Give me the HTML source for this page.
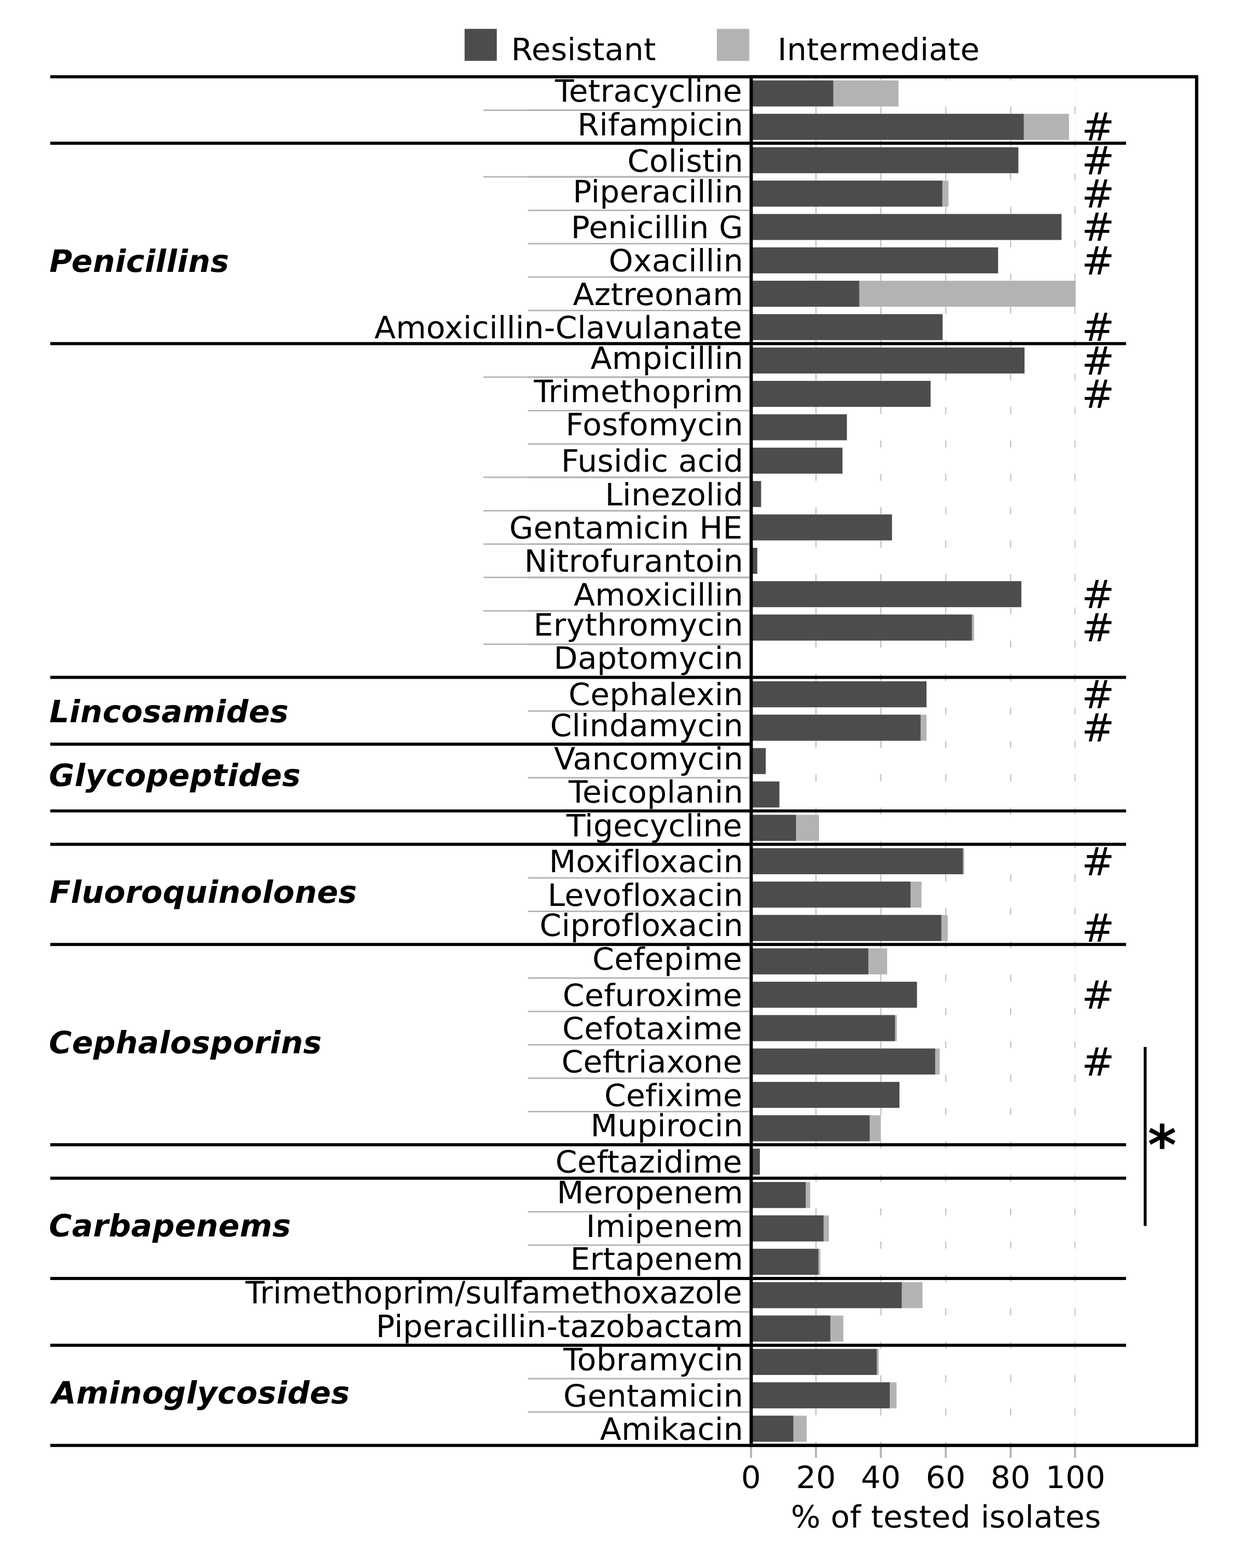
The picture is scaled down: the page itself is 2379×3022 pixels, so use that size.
<!DOCTYPE html>
<html lang="en"><head><meta charset="utf-8"><title>Antibiotic resistance chart</title>
<style>html,body{margin:0;padding:0;background:#fff}body{width:2379px;height:3022px;overflow:hidden}</style></head>
<body>
<svg width="2379" height="3022" viewBox="0 0 2379 3022" style="display:block">
<rect width="2379" height="3022" fill="#fff"/>
<g stroke="#c2c2c2" stroke-width="2.3">
<line x1="1573.10" y1="147.95" x2="1573.10" y2="154.75"/>
<line x1="1573.10" y1="205.48" x2="1573.10" y2="219.08"/>
<line x1="1573.10" y1="269.82" x2="1573.10" y2="283.42"/>
<line x1="1573.10" y1="334.15" x2="1573.10" y2="347.75"/>
<line x1="1573.10" y1="398.49" x2="1573.10" y2="412.09"/>
<line x1="1573.10" y1="462.82" x2="1573.10" y2="476.42"/>
<line x1="1573.10" y1="527.16" x2="1573.10" y2="540.76"/>
<line x1="1573.10" y1="591.50" x2="1573.10" y2="605.09"/>
<line x1="1573.10" y1="655.83" x2="1573.10" y2="669.43"/>
<line x1="1573.10" y1="720.16" x2="1573.10" y2="733.76"/>
<line x1="1573.10" y1="784.50" x2="1573.10" y2="798.10"/>
<line x1="1573.10" y1="848.84" x2="1573.10" y2="862.43"/>
<line x1="1573.10" y1="913.17" x2="1573.10" y2="926.77"/>
<line x1="1573.10" y1="977.50" x2="1573.10" y2="991.10"/>
<line x1="1573.10" y1="1041.84" x2="1573.10" y2="1055.44"/>
<line x1="1573.10" y1="1106.17" x2="1573.10" y2="1119.77"/>
<line x1="1573.10" y1="1170.51" x2="1573.10" y2="1184.11"/>
<line x1="1573.10" y1="1234.85" x2="1573.10" y2="1248.44"/>
<line x1="1573.10" y1="1299.18" x2="1573.10" y2="1312.78"/>
<line x1="1573.10" y1="1363.51" x2="1573.10" y2="1377.11"/>
<line x1="1573.10" y1="1427.85" x2="1573.10" y2="1441.45"/>
<line x1="1573.10" y1="1492.18" x2="1573.10" y2="1505.78"/>
<line x1="1573.10" y1="1556.52" x2="1573.10" y2="1570.12"/>
<line x1="1573.10" y1="1620.86" x2="1573.10" y2="1634.45"/>
<line x1="1573.10" y1="1685.19" x2="1573.10" y2="1698.79"/>
<line x1="1573.10" y1="1749.52" x2="1573.10" y2="1763.12"/>
<line x1="1573.10" y1="1813.86" x2="1573.10" y2="1827.46"/>
<line x1="1573.10" y1="1878.19" x2="1573.10" y2="1891.79"/>
<line x1="1573.10" y1="1942.53" x2="1573.10" y2="1956.13"/>
<line x1="1573.10" y1="2006.87" x2="1573.10" y2="2020.46"/>
<line x1="1573.10" y1="2071.20" x2="1573.10" y2="2084.80"/>
<line x1="1573.10" y1="2135.53" x2="1573.10" y2="2149.13"/>
<line x1="1573.10" y1="2199.87" x2="1573.10" y2="2213.47"/>
<line x1="1573.10" y1="2264.20" x2="1573.10" y2="2277.80"/>
<line x1="1573.10" y1="2328.54" x2="1573.10" y2="2342.14"/>
<line x1="1573.10" y1="2392.87" x2="1573.10" y2="2406.47"/>
<line x1="1573.10" y1="2457.21" x2="1573.10" y2="2470.81"/>
<line x1="1573.10" y1="2521.54" x2="1573.10" y2="2535.14"/>
<line x1="1573.10" y1="2585.88" x2="1573.10" y2="2599.48"/>
<line x1="1573.10" y1="2650.21" x2="1573.10" y2="2663.81"/>
<line x1="1573.10" y1="2714.55" x2="1573.10" y2="2728.15"/>
<line x1="1573.10" y1="2778.88" x2="1573.10" y2="2785.68"/>
<line x1="1698.20" y1="147.95" x2="1698.20" y2="154.75"/>
<line x1="1698.20" y1="205.48" x2="1698.20" y2="219.08"/>
<line x1="1698.20" y1="269.82" x2="1698.20" y2="283.42"/>
<line x1="1698.20" y1="334.15" x2="1698.20" y2="347.75"/>
<line x1="1698.20" y1="398.49" x2="1698.20" y2="412.09"/>
<line x1="1698.20" y1="462.82" x2="1698.20" y2="476.42"/>
<line x1="1698.20" y1="527.16" x2="1698.20" y2="540.76"/>
<line x1="1698.20" y1="591.50" x2="1698.20" y2="605.09"/>
<line x1="1698.20" y1="655.83" x2="1698.20" y2="669.43"/>
<line x1="1698.20" y1="720.16" x2="1698.20" y2="733.76"/>
<line x1="1698.20" y1="784.50" x2="1698.20" y2="798.10"/>
<line x1="1698.20" y1="848.84" x2="1698.20" y2="862.43"/>
<line x1="1698.20" y1="913.17" x2="1698.20" y2="926.77"/>
<line x1="1698.20" y1="977.50" x2="1698.20" y2="991.10"/>
<line x1="1698.20" y1="1041.84" x2="1698.20" y2="1055.44"/>
<line x1="1698.20" y1="1106.17" x2="1698.20" y2="1119.77"/>
<line x1="1698.20" y1="1170.51" x2="1698.20" y2="1184.11"/>
<line x1="1698.20" y1="1234.85" x2="1698.20" y2="1248.44"/>
<line x1="1698.20" y1="1299.18" x2="1698.20" y2="1312.78"/>
<line x1="1698.20" y1="1363.51" x2="1698.20" y2="1377.11"/>
<line x1="1698.20" y1="1427.85" x2="1698.20" y2="1441.45"/>
<line x1="1698.20" y1="1492.18" x2="1698.20" y2="1505.78"/>
<line x1="1698.20" y1="1556.52" x2="1698.20" y2="1570.12"/>
<line x1="1698.20" y1="1620.86" x2="1698.20" y2="1634.45"/>
<line x1="1698.20" y1="1685.19" x2="1698.20" y2="1698.79"/>
<line x1="1698.20" y1="1749.52" x2="1698.20" y2="1763.12"/>
<line x1="1698.20" y1="1813.86" x2="1698.20" y2="1827.46"/>
<line x1="1698.20" y1="1878.19" x2="1698.20" y2="1891.79"/>
<line x1="1698.20" y1="1942.53" x2="1698.20" y2="1956.13"/>
<line x1="1698.20" y1="2006.87" x2="1698.20" y2="2020.46"/>
<line x1="1698.20" y1="2071.20" x2="1698.20" y2="2084.80"/>
<line x1="1698.20" y1="2135.53" x2="1698.20" y2="2149.13"/>
<line x1="1698.20" y1="2199.87" x2="1698.20" y2="2213.47"/>
<line x1="1698.20" y1="2264.20" x2="1698.20" y2="2277.80"/>
<line x1="1698.20" y1="2328.54" x2="1698.20" y2="2342.14"/>
<line x1="1698.20" y1="2392.87" x2="1698.20" y2="2406.47"/>
<line x1="1698.20" y1="2457.21" x2="1698.20" y2="2470.81"/>
<line x1="1698.20" y1="2521.54" x2="1698.20" y2="2535.14"/>
<line x1="1698.20" y1="2585.88" x2="1698.20" y2="2599.48"/>
<line x1="1698.20" y1="2650.21" x2="1698.20" y2="2663.81"/>
<line x1="1698.20" y1="2714.55" x2="1698.20" y2="2728.15"/>
<line x1="1698.20" y1="2778.88" x2="1698.20" y2="2785.68"/>
<line x1="1823.30" y1="147.95" x2="1823.30" y2="154.75"/>
<line x1="1823.30" y1="205.48" x2="1823.30" y2="219.08"/>
<line x1="1823.30" y1="269.82" x2="1823.30" y2="283.42"/>
<line x1="1823.30" y1="334.15" x2="1823.30" y2="347.75"/>
<line x1="1823.30" y1="398.49" x2="1823.30" y2="412.09"/>
<line x1="1823.30" y1="462.82" x2="1823.30" y2="476.42"/>
<line x1="1823.30" y1="527.16" x2="1823.30" y2="540.76"/>
<line x1="1823.30" y1="591.50" x2="1823.30" y2="605.09"/>
<line x1="1823.30" y1="655.83" x2="1823.30" y2="669.43"/>
<line x1="1823.30" y1="720.16" x2="1823.30" y2="733.76"/>
<line x1="1823.30" y1="784.50" x2="1823.30" y2="798.10"/>
<line x1="1823.30" y1="848.84" x2="1823.30" y2="862.43"/>
<line x1="1823.30" y1="913.17" x2="1823.30" y2="926.77"/>
<line x1="1823.30" y1="977.50" x2="1823.30" y2="991.10"/>
<line x1="1823.30" y1="1041.84" x2="1823.30" y2="1055.44"/>
<line x1="1823.30" y1="1106.17" x2="1823.30" y2="1119.77"/>
<line x1="1823.30" y1="1170.51" x2="1823.30" y2="1184.11"/>
<line x1="1823.30" y1="1234.85" x2="1823.30" y2="1248.44"/>
<line x1="1823.30" y1="1299.18" x2="1823.30" y2="1312.78"/>
<line x1="1823.30" y1="1363.51" x2="1823.30" y2="1377.11"/>
<line x1="1823.30" y1="1427.85" x2="1823.30" y2="1441.45"/>
<line x1="1823.30" y1="1492.18" x2="1823.30" y2="1505.78"/>
<line x1="1823.30" y1="1556.52" x2="1823.30" y2="1570.12"/>
<line x1="1823.30" y1="1620.86" x2="1823.30" y2="1634.45"/>
<line x1="1823.30" y1="1685.19" x2="1823.30" y2="1698.79"/>
<line x1="1823.30" y1="1749.52" x2="1823.30" y2="1763.12"/>
<line x1="1823.30" y1="1813.86" x2="1823.30" y2="1827.46"/>
<line x1="1823.30" y1="1878.19" x2="1823.30" y2="1891.79"/>
<line x1="1823.30" y1="1942.53" x2="1823.30" y2="1956.13"/>
<line x1="1823.30" y1="2006.87" x2="1823.30" y2="2020.46"/>
<line x1="1823.30" y1="2071.20" x2="1823.30" y2="2084.80"/>
<line x1="1823.30" y1="2135.53" x2="1823.30" y2="2149.13"/>
<line x1="1823.30" y1="2199.87" x2="1823.30" y2="2213.47"/>
<line x1="1823.30" y1="2264.20" x2="1823.30" y2="2277.80"/>
<line x1="1823.30" y1="2328.54" x2="1823.30" y2="2342.14"/>
<line x1="1823.30" y1="2392.87" x2="1823.30" y2="2406.47"/>
<line x1="1823.30" y1="2457.21" x2="1823.30" y2="2470.81"/>
<line x1="1823.30" y1="2521.54" x2="1823.30" y2="2535.14"/>
<line x1="1823.30" y1="2585.88" x2="1823.30" y2="2599.48"/>
<line x1="1823.30" y1="2650.21" x2="1823.30" y2="2663.81"/>
<line x1="1823.30" y1="2714.55" x2="1823.30" y2="2728.15"/>
<line x1="1823.30" y1="2778.88" x2="1823.30" y2="2785.68"/>
<line x1="1948.40" y1="147.95" x2="1948.40" y2="154.75"/>
<line x1="1948.40" y1="205.48" x2="1948.40" y2="219.08"/>
<line x1="1948.40" y1="269.82" x2="1948.40" y2="283.42"/>
<line x1="1948.40" y1="334.15" x2="1948.40" y2="347.75"/>
<line x1="1948.40" y1="398.49" x2="1948.40" y2="412.09"/>
<line x1="1948.40" y1="462.82" x2="1948.40" y2="476.42"/>
<line x1="1948.40" y1="527.16" x2="1948.40" y2="540.76"/>
<line x1="1948.40" y1="591.50" x2="1948.40" y2="605.09"/>
<line x1="1948.40" y1="655.83" x2="1948.40" y2="669.43"/>
<line x1="1948.40" y1="720.16" x2="1948.40" y2="733.76"/>
<line x1="1948.40" y1="784.50" x2="1948.40" y2="798.10"/>
<line x1="1948.40" y1="848.84" x2="1948.40" y2="862.43"/>
<line x1="1948.40" y1="913.17" x2="1948.40" y2="926.77"/>
<line x1="1948.40" y1="977.50" x2="1948.40" y2="991.10"/>
<line x1="1948.40" y1="1041.84" x2="1948.40" y2="1055.44"/>
<line x1="1948.40" y1="1106.17" x2="1948.40" y2="1119.77"/>
<line x1="1948.40" y1="1170.51" x2="1948.40" y2="1184.11"/>
<line x1="1948.40" y1="1234.85" x2="1948.40" y2="1248.44"/>
<line x1="1948.40" y1="1299.18" x2="1948.40" y2="1312.78"/>
<line x1="1948.40" y1="1363.51" x2="1948.40" y2="1377.11"/>
<line x1="1948.40" y1="1427.85" x2="1948.40" y2="1441.45"/>
<line x1="1948.40" y1="1492.18" x2="1948.40" y2="1505.78"/>
<line x1="1948.40" y1="1556.52" x2="1948.40" y2="1570.12"/>
<line x1="1948.40" y1="1620.86" x2="1948.40" y2="1634.45"/>
<line x1="1948.40" y1="1685.19" x2="1948.40" y2="1698.79"/>
<line x1="1948.40" y1="1749.52" x2="1948.40" y2="1763.12"/>
<line x1="1948.40" y1="1813.86" x2="1948.40" y2="1827.46"/>
<line x1="1948.40" y1="1878.19" x2="1948.40" y2="1891.79"/>
<line x1="1948.40" y1="1942.53" x2="1948.40" y2="1956.13"/>
<line x1="1948.40" y1="2006.87" x2="1948.40" y2="2020.46"/>
<line x1="1948.40" y1="2071.20" x2="1948.40" y2="2084.80"/>
<line x1="1948.40" y1="2135.53" x2="1948.40" y2="2149.13"/>
<line x1="1948.40" y1="2199.87" x2="1948.40" y2="2213.47"/>
<line x1="1948.40" y1="2264.20" x2="1948.40" y2="2277.80"/>
<line x1="1948.40" y1="2328.54" x2="1948.40" y2="2342.14"/>
<line x1="1948.40" y1="2392.87" x2="1948.40" y2="2406.47"/>
<line x1="1948.40" y1="2457.21" x2="1948.40" y2="2470.81"/>
<line x1="1948.40" y1="2521.54" x2="1948.40" y2="2535.14"/>
<line x1="1948.40" y1="2585.88" x2="1948.40" y2="2599.48"/>
<line x1="1948.40" y1="2650.21" x2="1948.40" y2="2663.81"/>
<line x1="1948.40" y1="2714.55" x2="1948.40" y2="2728.15"/>
<line x1="1948.40" y1="2778.88" x2="1948.40" y2="2785.68"/>
<line x1="2072.50" y1="147.95" x2="2072.50" y2="154.75"/>
<line x1="2072.50" y1="205.48" x2="2072.50" y2="219.08"/>
<line x1="2072.50" y1="269.82" x2="2072.50" y2="283.42"/>
<line x1="2072.50" y1="334.15" x2="2072.50" y2="347.75"/>
<line x1="2072.50" y1="398.49" x2="2072.50" y2="412.09"/>
<line x1="2072.50" y1="462.82" x2="2072.50" y2="476.42"/>
<line x1="2072.50" y1="527.16" x2="2072.50" y2="540.76"/>
<line x1="2072.50" y1="591.50" x2="2072.50" y2="605.09"/>
<line x1="2072.50" y1="655.83" x2="2072.50" y2="669.43"/>
<line x1="2072.50" y1="720.16" x2="2072.50" y2="733.76"/>
<line x1="2072.50" y1="784.50" x2="2072.50" y2="798.10"/>
<line x1="2072.50" y1="848.84" x2="2072.50" y2="862.43"/>
<line x1="2072.50" y1="913.17" x2="2072.50" y2="926.77"/>
<line x1="2072.50" y1="977.50" x2="2072.50" y2="991.10"/>
<line x1="2072.50" y1="1041.84" x2="2072.50" y2="1055.44"/>
<line x1="2072.50" y1="1106.17" x2="2072.50" y2="1119.77"/>
<line x1="2072.50" y1="1170.51" x2="2072.50" y2="1184.11"/>
<line x1="2072.50" y1="1234.85" x2="2072.50" y2="1248.44"/>
<line x1="2072.50" y1="1299.18" x2="2072.50" y2="1312.78"/>
<line x1="2072.50" y1="1363.51" x2="2072.50" y2="1377.11"/>
<line x1="2072.50" y1="1427.85" x2="2072.50" y2="1441.45"/>
<line x1="2072.50" y1="1492.18" x2="2072.50" y2="1505.78"/>
<line x1="2072.50" y1="1556.52" x2="2072.50" y2="1570.12"/>
<line x1="2072.50" y1="1620.86" x2="2072.50" y2="1634.45"/>
<line x1="2072.50" y1="1685.19" x2="2072.50" y2="1698.79"/>
<line x1="2072.50" y1="1749.52" x2="2072.50" y2="1763.12"/>
<line x1="2072.50" y1="1813.86" x2="2072.50" y2="1827.46"/>
<line x1="2072.50" y1="1878.19" x2="2072.50" y2="1891.79"/>
<line x1="2072.50" y1="1942.53" x2="2072.50" y2="1956.13"/>
<line x1="2072.50" y1="2006.87" x2="2072.50" y2="2020.46"/>
<line x1="2072.50" y1="2071.20" x2="2072.50" y2="2084.80"/>
<line x1="2072.50" y1="2135.53" x2="2072.50" y2="2149.13"/>
<line x1="2072.50" y1="2199.87" x2="2072.50" y2="2213.47"/>
<line x1="2072.50" y1="2264.20" x2="2072.50" y2="2277.80"/>
<line x1="2072.50" y1="2328.54" x2="2072.50" y2="2342.14"/>
<line x1="2072.50" y1="2392.87" x2="2072.50" y2="2406.47"/>
<line x1="2072.50" y1="2457.21" x2="2072.50" y2="2470.81"/>
<line x1="2072.50" y1="2521.54" x2="2072.50" y2="2535.14"/>
<line x1="2072.50" y1="2585.88" x2="2072.50" y2="2599.48"/>
<line x1="2072.50" y1="2650.21" x2="2072.50" y2="2663.81"/>
<line x1="2072.50" y1="2714.55" x2="2072.50" y2="2728.15"/>
<line x1="2072.50" y1="2778.88" x2="2072.50" y2="2785.68"/>
</g>
<line x1="2074.10" y1="147.95" x2="2074.10" y2="2785.68" stroke="#f7f7f7" stroke-width="1.6"/>
<g>
<rect x="1448.20" y="155.07" width="283.98" height="50.1" fill="#b3b3b3"/>
<rect x="1448.20" y="155.07" width="158.25" height="50.1" fill="#4c4c4c"/>
<rect x="1448.20" y="219.40" width="612.68" height="50.1" fill="#b3b3b3"/>
<rect x="1448.20" y="219.40" width="525.42" height="50.1" fill="#4c4c4c"/>
<rect x="1448.20" y="283.74" width="515.10" height="50.1" fill="#4c4c4c"/>
<rect x="1448.20" y="348.07" width="380.30" height="50.1" fill="#b3b3b3"/>
<rect x="1448.20" y="348.07" width="368.42" height="50.1" fill="#4c4c4c"/>
<rect x="1448.20" y="412.41" width="598.29" height="50.1" fill="#4c4c4c"/>
<rect x="1448.20" y="476.74" width="476.01" height="50.1" fill="#4c4c4c"/>
<rect x="1448.20" y="541.08" width="625.50" height="50.1" fill="#b3b3b3"/>
<rect x="1448.20" y="541.08" width="208.29" height="50.1" fill="#4c4c4c"/>
<rect x="1448.20" y="605.41" width="369.05" height="50.1" fill="#4c4c4c"/>
<rect x="1448.20" y="669.75" width="526.98" height="50.1" fill="#4c4c4c"/>
<rect x="1448.20" y="734.08" width="345.90" height="50.1" fill="#4c4c4c"/>
<rect x="1448.20" y="798.42" width="184.52" height="50.1" fill="#4c4c4c"/>
<rect x="1448.20" y="862.75" width="176.08" height="50.1" fill="#4c4c4c"/>
<rect x="1448.20" y="927.09" width="19.14" height="50.1" fill="#4c4c4c"/>
<rect x="1448.20" y="991.42" width="271.47" height="50.1" fill="#4c4c4c"/>
<rect x="1448.20" y="1055.76" width="11.76" height="50.1" fill="#4c4c4c"/>
<rect x="1448.20" y="1120.09" width="520.85" height="50.1" fill="#4c4c4c"/>
<rect x="1448.20" y="1184.43" width="429.72" height="50.1" fill="#b3b3b3"/>
<rect x="1448.20" y="1184.43" width="425.34" height="50.1" fill="#4c4c4c"/>
<rect x="1448.20" y="1313.10" width="338.02" height="50.1" fill="#4c4c4c"/>
<rect x="1448.20" y="1377.43" width="338.02" height="50.1" fill="#b3b3b3"/>
<rect x="1448.20" y="1377.43" width="326.51" height="50.1" fill="#4c4c4c"/>
<rect x="1448.20" y="1441.77" width="28.15" height="50.1" fill="#4c4c4c"/>
<rect x="1448.20" y="1506.10" width="54.42" height="50.1" fill="#4c4c4c"/>
<rect x="1448.20" y="1570.44" width="130.73" height="50.1" fill="#b3b3b3"/>
<rect x="1448.20" y="1570.44" width="86.32" height="50.1" fill="#4c4c4c"/>
<rect x="1448.20" y="1634.77" width="410.64" height="50.1" fill="#b3b3b3"/>
<rect x="1448.20" y="1634.77" width="408.14" height="50.1" fill="#4c4c4c"/>
<rect x="1448.20" y="1699.11" width="328.39" height="50.1" fill="#b3b3b3"/>
<rect x="1448.20" y="1699.11" width="307.12" height="50.1" fill="#4c4c4c"/>
<rect x="1448.20" y="1763.44" width="379.05" height="50.1" fill="#b3b3b3"/>
<rect x="1448.20" y="1763.44" width="366.54" height="50.1" fill="#4c4c4c"/>
<rect x="1448.20" y="1827.78" width="262.08" height="50.1" fill="#b3b3b3"/>
<rect x="1448.20" y="1827.78" width="225.81" height="50.1" fill="#4c4c4c"/>
<rect x="1448.20" y="1892.11" width="319.63" height="50.1" fill="#4c4c4c"/>
<rect x="1448.20" y="1956.45" width="280.85" height="50.1" fill="#b3b3b3"/>
<rect x="1448.20" y="1956.45" width="277.10" height="50.1" fill="#4c4c4c"/>
<rect x="1448.20" y="2020.78" width="363.42" height="50.1" fill="#b3b3b3"/>
<rect x="1448.20" y="2020.78" width="354.66" height="50.1" fill="#4c4c4c"/>
<rect x="1448.20" y="2085.12" width="285.85" height="50.1" fill="#4c4c4c"/>
<rect x="1448.20" y="2149.45" width="249.89" height="50.1" fill="#b3b3b3"/>
<rect x="1448.20" y="2149.45" width="228.31" height="50.1" fill="#4c4c4c"/>
<rect x="1448.20" y="2213.79" width="16.70" height="50.1" fill="#4c4c4c"/>
<rect x="1448.20" y="2278.12" width="113.84" height="50.1" fill="#b3b3b3"/>
<rect x="1448.20" y="2278.12" width="105.08" height="50.1" fill="#4c4c4c"/>
<rect x="1448.20" y="2342.46" width="149.87" height="50.1" fill="#b3b3b3"/>
<rect x="1448.20" y="2342.46" width="139.49" height="50.1" fill="#4c4c4c"/>
<rect x="1448.20" y="2406.79" width="133.23" height="50.1" fill="#b3b3b3"/>
<rect x="1448.20" y="2406.79" width="129.48" height="50.1" fill="#4c4c4c"/>
<rect x="1448.20" y="2471.13" width="330.26" height="50.1" fill="#b3b3b3"/>
<rect x="1448.20" y="2471.13" width="290.23" height="50.1" fill="#4c4c4c"/>
<rect x="1448.20" y="2535.46" width="177.64" height="50.1" fill="#b3b3b3"/>
<rect x="1448.20" y="2535.46" width="152.62" height="50.1" fill="#4c4c4c"/>
<rect x="1448.20" y="2599.80" width="245.82" height="50.1" fill="#b3b3b3"/>
<rect x="1448.20" y="2599.80" width="242.07" height="50.1" fill="#4c4c4c"/>
<rect x="1448.20" y="2664.13" width="280.22" height="50.1" fill="#b3b3b3"/>
<rect x="1448.20" y="2664.13" width="267.09" height="50.1" fill="#4c4c4c"/>
<rect x="1448.20" y="2728.47" width="106.96" height="50.1" fill="#b3b3b3"/>
<rect x="1448.20" y="2728.47" width="81.31" height="50.1" fill="#4c4c4c"/>
</g>
<g stroke="#b4b4b4" stroke-width="2.8">
<line x1="932.0" y1="212.28" x2="1448.2" y2="212.28"/>
<line x1="1018.0" y1="212.28" x2="1448.2" y2="212.28" stroke-width="3.2"/>
<line x1="932.0" y1="340.95" x2="1448.2" y2="340.95"/>
<line x1="1018.0" y1="340.95" x2="1448.2" y2="340.95" stroke-width="3.2"/>
<line x1="1018.0" y1="405.29" x2="1448.2" y2="405.29"/>
<line x1="1018.0" y1="469.62" x2="1448.2" y2="469.62"/>
<line x1="1018.0" y1="533.96" x2="1448.2" y2="533.96"/>
<line x1="1018.0" y1="598.29" x2="1448.2" y2="598.29"/>
<line x1="932.0" y1="726.96" x2="1448.2" y2="726.96"/>
<line x1="1018.0" y1="726.96" x2="1448.2" y2="726.96" stroke-width="3.2"/>
<line x1="1018.0" y1="791.30" x2="1448.2" y2="791.30"/>
<line x1="1018.0" y1="855.63" x2="1448.2" y2="855.63"/>
<line x1="932.0" y1="919.97" x2="1448.2" y2="919.97"/>
<line x1="1018.0" y1="919.97" x2="1448.2" y2="919.97" stroke-width="3.2"/>
<line x1="932.0" y1="984.30" x2="1448.2" y2="984.30"/>
<line x1="1018.0" y1="984.30" x2="1448.2" y2="984.30" stroke-width="3.2"/>
<line x1="932.0" y1="1048.64" x2="1448.2" y2="1048.64"/>
<line x1="1018.0" y1="1048.64" x2="1448.2" y2="1048.64" stroke-width="3.2"/>
<line x1="932.0" y1="1112.97" x2="1448.2" y2="1112.97"/>
<line x1="1018.0" y1="1112.97" x2="1448.2" y2="1112.97" stroke-width="3.2"/>
<line x1="932.0" y1="1177.31" x2="1448.2" y2="1177.31"/>
<line x1="1018.0" y1="1177.31" x2="1448.2" y2="1177.31" stroke-width="3.2"/>
<line x1="932.0" y1="1241.64" x2="1448.2" y2="1241.64"/>
<line x1="1018.0" y1="1241.64" x2="1448.2" y2="1241.64" stroke-width="3.2"/>
<line x1="1018.0" y1="1370.31" x2="1448.2" y2="1370.31"/>
<line x1="1018.0" y1="1498.98" x2="1448.2" y2="1498.98"/>
<line x1="1018.0" y1="1691.99" x2="1448.2" y2="1691.99"/>
<line x1="1018.0" y1="1756.32" x2="1448.2" y2="1756.32"/>
<line x1="1018.0" y1="1884.99" x2="1448.2" y2="1884.99"/>
<line x1="1018.0" y1="1949.33" x2="1448.2" y2="1949.33"/>
<line x1="1018.0" y1="2013.66" x2="1448.2" y2="2013.66"/>
<line x1="1018.0" y1="2078.00" x2="1448.2" y2="2078.00"/>
<line x1="1018.0" y1="2142.33" x2="1448.2" y2="2142.33"/>
<line x1="1018.0" y1="2335.34" x2="1448.2" y2="2335.34"/>
<line x1="1018.0" y1="2399.67" x2="1448.2" y2="2399.67"/>
<line x1="1018.0" y1="2528.34" x2="1448.2" y2="2528.34"/>
<line x1="1018.0" y1="2657.01" x2="1448.2" y2="2657.01"/>
<line x1="1018.0" y1="2721.35" x2="1448.2" y2="2721.35"/>
</g>
<g stroke="#b4b4b4" stroke-width="4">
<line x1="1447.90" y1="2785.68" x2="1447.90" y2="2809.68"/>
<line x1="1573.10" y1="2785.68" x2="1573.10" y2="2809.68"/>
<line x1="1698.20" y1="2785.68" x2="1698.20" y2="2809.68"/>
<line x1="1823.30" y1="2785.68" x2="1823.30" y2="2809.68"/>
<line x1="1948.40" y1="2785.68" x2="1948.40" y2="2809.68"/>
<line x1="2072.50" y1="2785.68" x2="2072.50" y2="2809.68"/>
</g>
<g stroke="#000" stroke-width="5.9">
<line x1="96.9" y1="147.95" x2="1448.2" y2="147.95"/>
<line x1="96.9" y1="2785.68" x2="1448.2" y2="2785.68"/>
<line x1="96.9" y1="276.02" x2="2170.9" y2="276.02"/>
<line x1="96.9" y1="662.23" x2="2170.9" y2="662.23"/>
<line x1="96.9" y1="1305.48" x2="2170.9" y2="1305.48"/>
<line x1="96.9" y1="1434.25" x2="1448.2" y2="1434.25"/>
<line x1="96.9" y1="1562.92" x2="2170.9" y2="1562.92"/>
<line x1="96.9" y1="1627.25" x2="2170.9" y2="1627.25"/>
<line x1="96.9" y1="1820.26" x2="2170.9" y2="1820.26"/>
<line x1="96.9" y1="2206.27" x2="2170.9" y2="2206.27"/>
<line x1="96.9" y1="2270.70" x2="2170.9" y2="2270.70"/>
<line x1="96.9" y1="2464.01" x2="2170.9" y2="2464.01"/>
<line x1="96.9" y1="2592.78" x2="2170.9" y2="2592.78"/>
</g>
<line x1="2207.7" y1="2017.7" x2="2207.7" y2="2362.7" stroke="#000" stroke-width="5.6"/>
<rect x="1448.2" y="147.95" width="858.80" height="2637.73" fill="none" stroke="#000" stroke-width="6.4"/>
<g font-family="'DejaVu Sans', 'Liberation Sans', sans-serif" font-size="60.0" fill="#000" text-rendering="geometricPrecision">
<g text-anchor="end" letter-spacing="0.25">
<text transform="translate(1431.04 196.44) scale(1 0.988)">Tetracycline</text>
<text transform="translate(1432.95 260.60) scale(1 0.988)">Rifampicin</text>
<text transform="translate(1432.95 330.64) scale(1 0.988)">Colistin</text>
<text transform="translate(1432.95 389.64) scale(1 0.988)">Piperacillin</text>
<text transform="translate(1432.77 458.88) scale(1 0.988)">Penicillin G</text>
<text transform="translate(1432.95 523.40) scale(1 0.988)">Oxacillin</text>
<text transform="translate(1432.95 587.96) scale(1 0.988)">Aztreonam</text>
<text transform="translate(1431.04 651.93) scale(1 0.988)">Amoxicillin-Clavulanate</text>
<text transform="translate(1432.95 711.08) scale(1 0.988)">Ampicillin</text>
<text transform="translate(1432.95 775.04) scale(1 0.988)">Trimethoprim</text>
<text transform="translate(1432.95 839.26) scale(1 0.988)">Fosfomycin</text>
<text transform="translate(1433.30 909.15) scale(1 0.988)">Fusidic acid</text>
<text transform="translate(1433.30 974.07) scale(1 0.988)">Linezolid</text>
<text transform="translate(1431.69 1038.24) scale(1 0.988)">Gentamicin HE</text>
<text transform="translate(1432.95 1102.40) scale(1 0.988)">Nitrofurantoin</text>
<text transform="translate(1432.95 1166.57) scale(1 0.988)">Amoxicillin</text>
<text transform="translate(1432.95 1225.32) scale(1 0.988)">Erythromycin</text>
<text transform="translate(1432.95 1289.48) scale(1 0.988)">Daptomycin</text>
<text transform="translate(1432.95 1359.27) scale(1 0.988)">Cephalexin</text>
<text transform="translate(1432.95 1418.52) scale(1 0.988)">Clindamycin</text>
<text transform="translate(1432.95 1482.64) scale(1 0.988)">Vancomycin</text>
<text transform="translate(1432.95 1547.15) scale(1 0.988)">Teicoplanin</text>
<text transform="translate(1431.04 1611.67) scale(1 0.988)">Tigecycline</text>
<text transform="translate(1432.95 1681.16) scale(1 0.988)">Moxifloxacin</text>
<text transform="translate(1432.95 1745.63) scale(1 0.988)">Levofloxacin</text>
<text transform="translate(1432.95 1804.07) scale(1 0.988)">Ciprofloxacin</text>
<text transform="translate(1431.04 1868.54) scale(1 0.988)">Cefepime</text>
<text transform="translate(1431.04 1939.18) scale(1 0.988)">Cefuroxime</text>
<text transform="translate(1431.04 2003.15) scale(1 0.988)">Cefotaxime</text>
<text transform="translate(1431.04 2067.12) scale(1 0.988)">Ceftriaxone</text>
<text transform="translate(1431.04 2131.63) scale(1 0.988)">Cefixime</text>
<text transform="translate(1432.95 2190.08) scale(1 0.988)">Mupirocin</text>
<text transform="translate(1431.04 2260.07) scale(1 0.988)">Ceftazidime</text>
<text transform="translate(1432.95 2318.66) scale(1 0.988)">Meropenem</text>
<text transform="translate(1432.95 2383.58) scale(1 0.988)">Imipenem</text>
<text transform="translate(1432.95 2446.59) scale(1 0.988)">Ertapenem</text>
<text transform="translate(1431.04 2512.07) scale(1 0.988)">Trimethoprim/sulfamethoxazole</text>
<text transform="translate(1432.95 2576.58) scale(1 0.988)">Piperacillin-tazobactam</text>
<text transform="translate(1432.95 2640.85) scale(1 0.988)">Tobramycin</text>
<text transform="translate(1432.95 2711.09) scale(1 0.988)">Gentamicin</text>
<text transform="translate(1432.95 2775.31) scale(1 0.988)">Amikacin</text>
</g>
<g font-size="75.6" text-anchor="middle">
<text transform="translate(2117.00 271.28) scale(1 1)">#</text>
<text transform="translate(2117.00 335.62) scale(1 1)">#</text>
<text transform="translate(2117.00 399.95) scale(1 1)">#</text>
<text transform="translate(2117.00 464.29) scale(1 1)">#</text>
<text transform="translate(2117.00 528.62) scale(1 1)">#</text>
<text transform="translate(2117.00 657.29) scale(1 1)">#</text>
<text transform="translate(2117.00 721.63) scale(1 1)">#</text>
<text transform="translate(2117.00 785.96) scale(1 1)">#</text>
<text transform="translate(2117.00 1171.97) scale(1 1)">#</text>
<text transform="translate(2117.00 1236.31) scale(1 1)">#</text>
<text transform="translate(2117.00 1364.98) scale(1 1)">#</text>
<text transform="translate(2117.00 1429.31) scale(1 1)">#</text>
<text transform="translate(2117.00 1686.65) scale(1 1)">#</text>
<text transform="translate(2117.00 1815.32) scale(1 1)">#</text>
<text transform="translate(2117.00 1943.99) scale(1 1)">#</text>
<text transform="translate(2117.00 2072.66) scale(1 1)">#</text>
</g>
<g font-weight="bold" font-style="italic" letter-spacing="0.37">
<text transform="translate(95.14 523.90) scale(1 0.988)">Penicillins</text>
<text transform="translate(95.14 1391.91) scale(1 0.988)">Lincosamides</text>
<text transform="translate(94.23 1514.61) scale(1 0.988)">Glycopeptides</text>
<text transform="translate(95.14 1740.01) scale(1 0.988)">Fluoroquinolones</text>
<text transform="translate(94.23 2029.52) scale(1 0.988)">Cephalosporins</text>
<text transform="translate(94.23 2383.36) scale(1 0.988)">Carbapenems</text>
<text transform="translate(100.30 2704.81) scale(1 0.988)">Aminoglycosides</text>
</g>
<g text-anchor="middle" letter-spacing="0.3">
<text transform="translate(1448.05 2868.00) scale(1 0.988)">0</text>
<text transform="translate(1573.12 2868.00) scale(1 0.988)">20</text>
<text transform="translate(1698.19 2868.00) scale(1 0.988)">40</text>
<text transform="translate(1823.26 2868.00) scale(1 0.988)">60</text>
<text transform="translate(1948.33 2868.00) scale(1 0.988)">80</text>
<text transform="translate(2073.40 2868.00) scale(1 0.988)">100</text>
<text transform="translate(1823.80 2944.40) scale(1 0.988)">% of tested isolates</text>
</g>
<text transform="translate(985.60 116.40) scale(1 0.988)" letter-spacing="0.26">Resistant</text>
<text transform="translate(1499.00 116.30) scale(1 0.988)" letter-spacing="0.2">Intermediate</text>
<text transform="translate(2212.74 2243.86) scale(1 1)" font-size="105.8" font-weight="bold">*</text>
</g>
<rect x="895.7" y="55.6" width="62" height="61.7" fill="#4c4c4c"/>
<rect x="1382" y="55.6" width="62.5" height="61.7" fill="#b3b3b3"/>
</svg>
</body></html>
